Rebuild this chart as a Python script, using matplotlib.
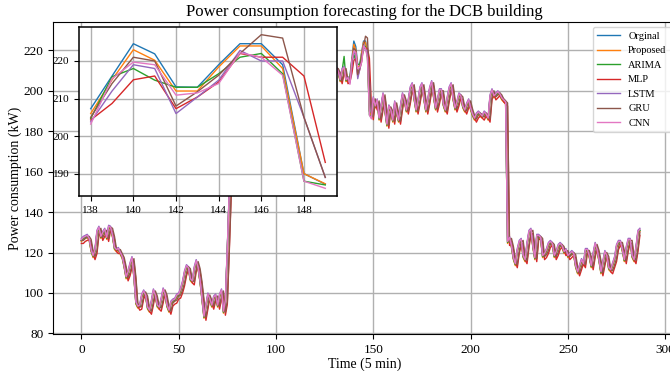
import numpy as np
import matplotlib.pyplot as plt

plt.rcParams['font.family'] = ['Liberation Serif', 'DejaVu Serif']

# measured load, one value per 5 min step (288 steps = one day)
original = [
    126, 127, 127.5, 128, 126.5, 121, 118, 121, 130, 132,
    127.5, 129.5, 131, 127, 132.5, 132, 128, 122, 121, 121.5,
    119.5, 117.5, 113, 107.5, 110, 114, 117, 108, 95, 93,
    93.5, 98.5, 100.5, 98.5, 92.5, 91, 95.5, 101, 98.5, 93.5,
    92.5, 96.5, 101.5, 99, 93.5, 91, 95, 96, 96.5, 98.5,
    99, 101.5, 105, 110, 113, 112, 106.5, 105.5, 112, 115.5,
    112, 105.5, 96.5, 88, 93.5, 99, 96.5, 93.5, 97.5, 98.5,
    93.5, 98.5, 101, 90.5, 96, 122, 150, 185,
    # behind the inset, estimated
    203, 210, 215, 209, 205, 212, 218, 213, 207, 211,
    216, 220, 214, 208, 212, 217, 221, 215, 209, 213,
    218, 222, 216, 210, 214, 219, 221, 215, 208, 211,
    216, 219, 213, 207, 210, 215, 218, 212, 206, 209,
    214, 217, 211, 205, 208, 213, 216, 210, 204, 207,
    212, 215, 211,
    211, 209, 205, 210, 211, 205, 206,
    207.3, 216, 224.6, 221.9, 213.1, 213, 219, 224.6, 224.6, 219, 190, 187.2,
    196, 192, 195, 186, 192, 198, 190, 183, 192, 190,
    185, 194, 189, 185, 192, 198, 195, 190, 195, 201,
    203, 196, 190, 195, 201, 203, 196, 190, 195, 201,
    204, 197, 191, 195, 200, 200, 193, 190, 196, 201,
    203, 196, 191, 194, 198, 197, 192, 190, 193, 195,
    191, 188, 186, 188, 189, 188, 187, 189, 188, 186,
    197, 200, 197, 198, 199, 198, 196, 195, 194,
    125, 127, 123, 117, 114, 121, 125, 126, 118, 116,
    124, 130, 131, 123, 117, 128, 128, 127, 118, 119,
    121, 124, 125, 124, 118, 120, 123, 124, 123, 120,
    121, 118, 119, 120, 119, 113, 110, 113, 116, 114,
    121, 121, 118, 113, 119, 124, 121, 116, 110, 115,
    120, 118, 112, 111, 114, 117, 123, 125, 125, 121,
    116, 122, 126, 126, 118, 116, 122, 130, 131,
]

# forecasts (steps 138..149)
zoom_start, zoom_end = 138, 150
proposed_zoom = [206, 215, 223, 220.2, 212, 212, 218.4, 224, 224, 218, 190, 187.3]
arima_zoom = [204.7, 215.8, 218, 214.9, 213, 213, 216.6, 221, 222, 216.6, 188, 187]
mlp_zoom = [204.3, 208.7, 215, 216, 207.3, 210.4, 214.4, 222, 221, 221, 216, 193]
lstm_zoom = [203.8, 212, 219, 218, 206, 210.4, 214.9, 222.8, 220, 220, 205, 189]
gru_zoom = [205, 214, 221, 220, 208, 211.8, 216.2, 222, 227, 226.1, 205, 189]
cnn_zoom = [203.2, 215.3, 219.7, 219, 210.9, 211.5, 214, 222.2, 221, 216.2, 188, 186.1]

# outside the window the forecasts sit on top of the measured curve:
# (label, lag in steps, offset in kW, zoom values)
models = [
    ('Proposed', 0, -0.5, proposed_zoom),
    ('ARIMA', 0, 0.0, arima_zoom),
    ('MLP', 1, -1.5, mlp_zoom),
    ('LSTM', 0, 1.0, lstm_zoom),
    ('GRU', 1, 0.0, gru_zoom),
    ('CNN', 0, 0.5, cnn_zoom),
]
arima_peak = {135: 217}


def make_forecast(lag, offset, zoom_vals):
    y = np.array(original, dtype=float)
    if lag:
        y[lag:] = y[:-lag]
    y = y + offset
    y[zoom_start:zoom_end] = zoom_vals
    return y


t = np.arange(len(original))
series = [('Orginal', np.array(original, dtype=float))]
for name, lag, off, zv in models:
    y = make_forecast(lag, off, zv)
    if name == 'ARIMA':
        for k, v in arima_peak.items():
            y[k] = v
    series.append((name, y))

fig = plt.figure(figsize=(6.7, 3.71), dpi=100)
ax = fig.add_axes([0.0798, 0.0984, 0.929, 0.8423])
for name, y in series:
    ax.plot(t, y, lw=1.0, label=name)
ax.set_xlim(-14.35, 305.5)
ax.set_title('Power consumption forecasting for the DCB building', fontsize=12, pad=4)
ax.set_xlabel('Time (5 min)', fontsize=10, labelpad=1)
ax.set_ylabel('Power consumption (kW)', fontsize=10, labelpad=1)
ax.tick_params(labelsize=9.5)
ax.grid(True, color='#b0b0b0', lw=1.0)
ax.legend(loc='upper right', fontsize=7.5, handlelength=2.2)

# zoomed inset
axin = fig.add_axes([0.1179, 0.4717, 0.3851, 0.4555])
ts = t[zoom_start:zoom_end]
for name, y in series:
    axin.plot(ts, y[zoom_start:zoom_end], lw=1.0)
axin.set_xticks([138, 140, 142, 144, 146, 148])
axin.tick_params(labelsize=8)
axin.grid(True, color='#b0b0b0', lw=1.0)
for sp in axin.spines.values():
    sp.set_linewidth(1.1)

fig.savefig('out.png', dpi=100)
